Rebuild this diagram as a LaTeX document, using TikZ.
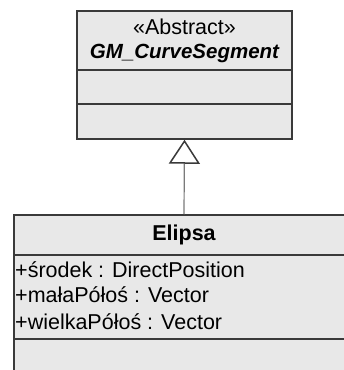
\documentclass[tikz,border=0pt]{standalone}
\usepackage{fontspec}
\setmainfont{Liberation Sans}
\usetikzlibrary{positioning,arrows.meta}
\definecolor{BoxFill}{HTML}{E8E8E8}
\definecolor{BoxLine}{HTML}{3A3A3A}
\definecolor{LinkGrey}{HTML}{7A7A7A}
\tikzset{
  classbox/.style={draw=BoxLine, fill=BoxFill, line width=1.5pt, rectangle, inner sep=0pt},
  classtext/.style={inner sep=0pt, font=\fontsize{21.5}{26}\selectfont},
  attrtext/.style={inner sep=0pt, anchor=west, font=\fontsize{21.5}{26}\selectfont},
}
\begin{document}
\begin{tikzpicture}[x=1pt,y=1pt]
        \useasboundingbox (0,0) rectangle (344,370);
        \clip (0,0) rectangle (344,370);
        \fill[white] (0,0) rectangle (344,370);
        % abstract superclass
        \node[classbox, minimum width=215pt, minimum height=128pt] (curveseg) at (184.5,295) {};
        \node[classtext] (stereo) at (184.5,343) {«Abstract»};
        \node[classtext, font=\fontsize{20.5}{25}\selectfont\bfseries\itshape] (curvename) at (184.5,317) {GM\_CurveSegment};
        \draw[BoxLine, line width=1.5pt] (curveseg.west |- 0,300) -- (curveseg.east |- 0,300);
        \draw[BoxLine, line width=1.5pt] (curveseg.west |- 0,266) -- (curveseg.east |- 0,266);
        % subclass
        \node[classbox, minimum width=340pt, minimum height=170pt] (elipsa) at (184,70) {};
        \node[classtext, font=\fontsize{21.5}{26}\selectfont\bfseries] (elipsaname) at (184,135) {Elipsa};
        \draw[BoxLine, line width=1.5pt] (elipsa.west |- 0,115) -- (elipsa.east |- 0,115);
        \node[attrtext] (srodek) at (15,100) {+środek : DirectPosition};
        \node[attrtext] (mala) at (15,75) {+małaPółoś : Vector};
        \node[attrtext] (wielka) at (15,48) {+wielkaPółoś : Vector};
        \draw[BoxLine, line width=1.5pt] (elipsa.west |- 0,31) -- (elipsa.east |- 0,31);
        % generalization
        \draw[LinkGrey, line width=1.2pt, -{Triangle[open, length=24pt, width=31pt, color=BoxLine, fill=white, line width=1.5pt]}] (elipsa.north) -- (curveseg.south);
      \end{tikzpicture}
\end{document}
